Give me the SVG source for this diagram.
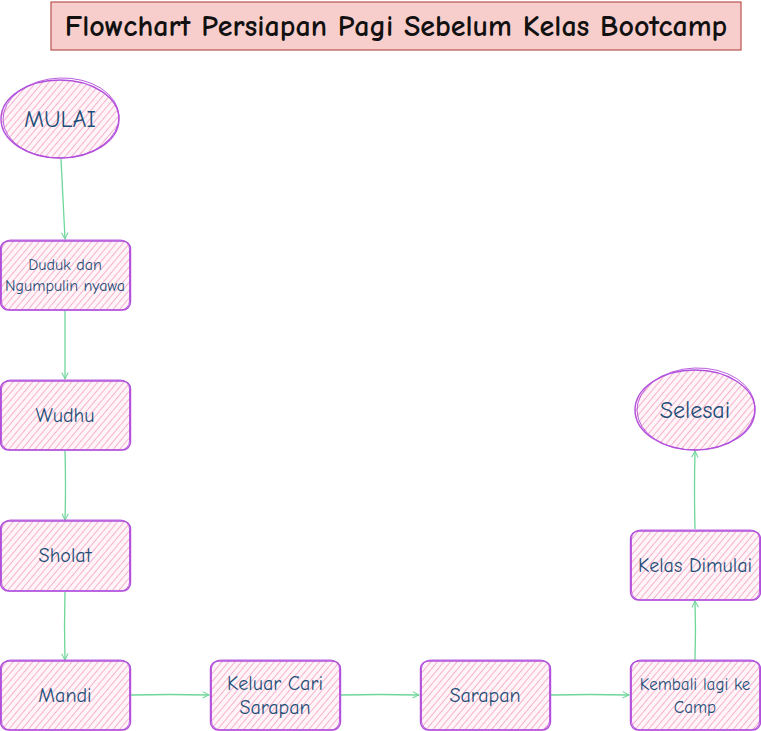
<svg xmlns="http://www.w3.org/2000/svg" width="761" height="731" viewBox="0 0 761 731">
<defs>
<pattern id="hatch" patternUnits="userSpaceOnUse" width="5" height="5" patternTransform="rotate(40)">
<rect width="5" height="5" fill="#fff5f8"/>
<line x1="0" y1="0" x2="0" y2="5" stroke="#f39cbf" stroke-width="1.5"/>
</pattern>
<marker id="arr" viewBox="0 0 10 10" refX="9" refY="5" markerWidth="8" markerHeight="8" orient="auto" markerUnits="userSpaceOnUse">
<path d="M1,1 L9,5 L1,9" fill="none" stroke="#6fd69a" stroke-width="1.3"/>
</marker>
</defs>
<style>
.node{fill:url(#hatch);stroke:#b24fdc;stroke-width:1.4}
.sk{fill:none;stroke:#b24fdc;stroke-width:0.9}
.lbl{font-family:"Comic Neue","Liberation Sans",sans-serif;fill:#1f4f78;text-anchor:middle}
.conn{fill:none;stroke:#6fd69a;stroke-width:1.3;marker-end:url(#arr)}
.title{font-family:"Comic Neue","Liberation Sans",sans-serif;font-weight:bold;font-size:30px;fill:#111;text-anchor:middle}
</style>
<rect width="761" height="731" fill="#ffffff"/>
<g id="title">
<rect x="51" y="2" width="690" height="48" fill="#f8cecc" stroke="#b85450" stroke-width="1.2"/>
<text class="title" x="396" y="36">Flowchart Persiapan Pagi Sebelum Kelas Bootcamp</text>
</g>
<g id="connectors">
<path class="conn" d="M61,159 Q63,200 65,239"/>
<path class="conn" d="M65,311 Q65,345 65,379"/>
<path class="conn" d="M65,451 Q66,486 65,520"/>
<path class="conn" d="M65,592 Q64,626 65,660"/>
<path class="conn" d="M131,695 Q170,694 209,695"/>
<path class="conn" d="M341,695 Q380,694 419,695"/>
<path class="conn" d="M551,695 Q590,694 629,695"/>
<path class="conn" d="M695,660 Q696,630 695,601"/>
<path class="conn" d="M695,529 Q694,490 695,451"/>
</g>
<g id="mulai">
<ellipse class="node" cx="60" cy="119" rx="59" ry="39"/>
<ellipse class="sk" cx="61" cy="118" rx="58" ry="40" transform="rotate(-2 61 118)"/>
<text class="lbl" x="60" y="127" font-size="24">MULAI</text>
</g>
<g id="duduk">
<rect class="node" x="0.5" y="241" width="130" height="69" rx="8"/>
<rect class="sk" x="1.5" y="240" width="128" height="70" rx="9"/>
<text class="lbl" x="65" y="270" font-size="16">Duduk dan</text>
<text class="lbl" x="65" y="291" font-size="16">Ngumpulin nyawa</text>
</g>
<g id="wudhu">
<rect class="node" x="0.5" y="381" width="130" height="69" rx="8"/>
<rect class="sk" x="1.5" y="380" width="128" height="70" rx="9"/>
<text class="lbl" x="65" y="422" font-size="20">Wudhu</text>
</g>
<g id="sholat">
<rect class="node" x="0.5" y="521" width="130" height="70" rx="8"/>
<rect class="sk" x="1.5" y="520" width="128" height="71" rx="9"/>
<text class="lbl" x="65" y="562" font-size="20">Sholat</text>
</g>
<g id="mandi">
<rect class="node" x="0.5" y="661" width="130" height="69" rx="8"/>
<rect class="sk" x="1.5" y="660" width="128" height="70" rx="9"/>
<text class="lbl" x="65" y="702" font-size="20">Mandi</text>
</g>
<g id="keluar">
<rect class="node" x="210.5" y="661" width="130" height="69" rx="8"/>
<rect class="sk" x="211.5" y="660" width="128" height="70" rx="9"/>
<text class="lbl" x="275" y="690" font-size="20">Keluar Cari</text>
<text class="lbl" x="275" y="714" font-size="20">Sarapan</text>
</g>
<g id="sarapan">
<rect class="node" x="420.5" y="661" width="130" height="69" rx="8"/>
<rect class="sk" x="421.5" y="660" width="128" height="70" rx="9"/>
<text class="lbl" x="485" y="702" font-size="20">Sarapan</text>
</g>
<g id="kembali">
<rect class="node" x="630.5" y="661" width="130" height="69" rx="8"/>
<rect class="sk" x="631.5" y="660" width="128" height="70" rx="9"/>
<text class="lbl" x="695" y="690" font-size="17">Kembali lagi ke</text>
<text class="lbl" x="695" y="713" font-size="17">Camp</text>
</g>
<g id="kelas">
<rect class="node" x="630.5" y="531" width="130" height="69" rx="8"/>
<rect class="sk" x="631.5" y="530" width="128" height="70" rx="9"/>
<text class="lbl" x="695" y="572" font-size="20">Kelas Dimulai</text>
</g>
<g id="selesai">
<ellipse class="node" cx="695" cy="410" rx="60" ry="40"/>
<ellipse class="sk" cx="696" cy="409" rx="59" ry="41" transform="rotate(-2 696 409)"/>
<text class="lbl" x="695" y="418" font-size="24">Selesai</text>
</g>
</svg>
